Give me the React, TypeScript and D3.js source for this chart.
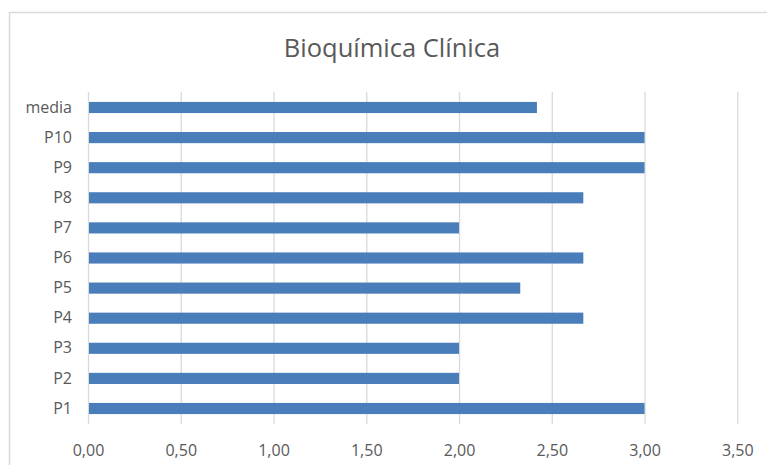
import { useEffect, useRef } from "react";
import * as d3 from "d3";

const categories = ["P1", "P2", "P3", "P4", "P5", "P6", "P7", "P8", "P9", "P10", "media"];
const values = [3, 2, 2, 2.67, 2.33, 2.67, 2, 2.67, 3, 3, 2.42];
const ticks = [0, 0.5, 1, 1.5, 2, 2.5, 3, 3.5];
const title = "Bioquímica Clínica";

export default function App() {
  const ref = useRef<SVGSVGElement>(null);

  useEffect(() => {
    document.body.style.margin = "0";
    if (!ref.current) return;
    const svg = d3.select(ref.current);
    svg.selectAll("*").remove();
    const font = "'Open Sans', Lato, sans-serif";
    const left = 88, right = 737.3, top = 92, bottom = 424;

    svg.append("rect").attr("width", 767).attr("height", 465).attr("fill", "#fff");
    // chart frame
    svg.append("path")
      .attr("d", "M9.5,470 V12.5 H780")
      .attr("fill", "none")
      .attr("stroke", "#d9d9d9")
      .attr("stroke-width", 1.5);

    svg.append("text")
      .attr("x", 392)
      .attr("y", 57)
      .attr("text-anchor", "middle")
      .style("font-family", font)
      .style("font-size", "25.5px")
      .style("fill", "#595959")
      .text(title);

    const x = d3.scaleLinear().domain([0, 3.5]).range([left, right]);
    const y = d3
      .scaleBand()
      .domain([...categories].reverse())
      .range([top, bottom])
      .paddingInner(0.63)
      .paddingOuter(0.33);

    const gx = svg
      .append("g")
      .attr("transform", `translate(0,${bottom})`)
      .call(
        d3.axisBottom(x)
          .tickValues(ticks)
          .tickSize(-(bottom - top))
          .tickPadding(21)
          .tickFormat((d) => d3.format(".2f")(d as number).replace(".", ","))
      );
    gx.select(".domain").remove();
    gx.selectAll(".tick line").attr("stroke", "#d9d9d9").attr("stroke-width", 1.3);
    gx.selectAll(".tick text")
      .style("font-family", font)
      .style("font-size", "16px")
      .style("fill", "#595959");

    const gy = svg
      .append("g")
      .attr("transform", `translate(${left},0)`)
      .call(d3.axisLeft(y).tickSize(0).tickPadding(16));
    gy.select(".domain").remove();
    gy.selectAll(".tick text")
      .style("font-family", font)
      .style("font-size", "16px")
      .style("fill", "#595959");

    svg
      .append("g")
      .selectAll("rect")
      .data(categories.map((c, i) => ({ c, v: values[i] })))
      .join("rect")
      .attr("x", x(0) + 1)
      .attr("y", (d) => y(d.c)!)
      .attr("width", (d) => x(d.v) - x(0) - 1)
      .attr("height", y.bandwidth())
      .attr("fill", "#4a7ebb");
  }, []);

  return <svg ref={ref} width={767} height={465} style={{ display: "block" }} />;
}
